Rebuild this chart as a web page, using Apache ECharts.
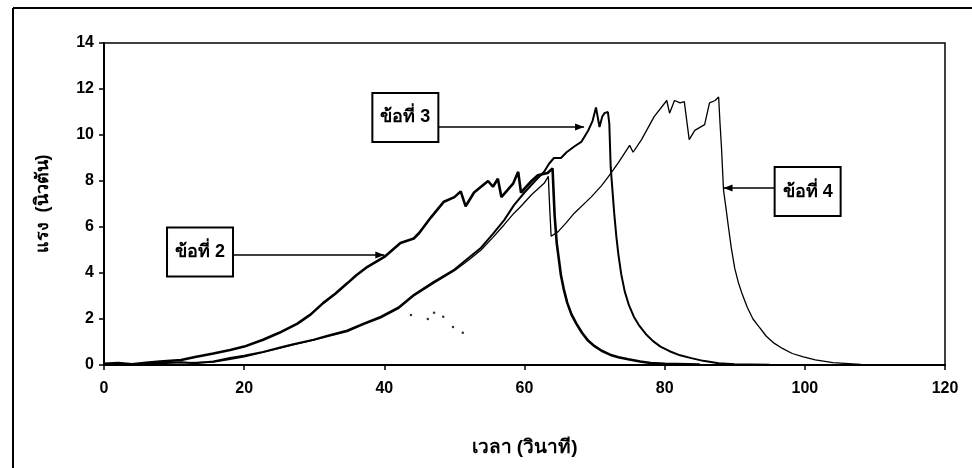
<!DOCTYPE html>
<html lang="th">
<head>
<meta charset="UTF-8">
<title>แรง - เวลา</title>
<style>
  html, body { margin: 0; padding: 0; background: #fff; }
  #main { width: 972px; height: 468px; }
</style>
</head>
<body>
<div id="main"></div>
<script src="https://cdn.jsdelivr.net/npm/echarts@6/dist/echarts.min.js"></script>
<script>
// ข้อมูลอ่านจากกราฟ [เวลา (s), แรง (N)]
var trial2 = [[0,0.05],[2,0.08],[4,0.03],[6,0.1],[8,0.15],[11,0.22],[13,0.35],[15.6,0.5],[18,0.65],[20,0.8],
  [22.7,1.1],[25,1.4],[27.6,1.8],[29.5,2.2],[31.3,2.7],[33,3.1],[34.7,3.55],[36,3.9],[37.6,4.27],[40,4.7],
  [42.3,5.3],[44.2,5.5],[45,5.75],[46.6,6.4],[48.5,7.1],[50,7.3],[50.9,7.55],[51.6,6.9],[52.8,7.5],[54.8,8.0],
  [55.5,7.75],[56.2,8.1],[56.7,7.3],[58.4,7.9],[59.1,8.4],[59.5,7.5],[61,8.0],[61.9,8.25],[63.3,8.35],[64,8.55],
  [64.3,6.5],[64.6,5.3],[64.9,4.6],[65.2,3.9],[65.6,3.3],[66.1,2.7],[66.7,2.2],[67.4,1.8],[68.2,1.4],[69.1,1.05],
  [70,0.82],[71,0.62],[72.2,0.45],[73.4,0.34],[74.8,0.25],[76.5,0.15],[78,0.09],[80,0.05],[85,0.02]];

var trial3 = [[5,0.0],[8,0.08],[11,0.12],[13,0.08],[15.6,0.15],[18,0.3],[20,0.4],[22.7,0.57],[25,0.75],[27,0.9],
  [29.9,1.1],[32,1.28],[34.7,1.5],[37,1.8],[39.5,2.1],[42,2.5],[44.2,3.05],[47,3.6],[50,4.15],[52,4.65],
  [53.8,5.1],[55.5,5.7],[57.1,6.3],[58.5,6.95],[60,7.5],[61.5,8.0],[62.8,8.4],[63.5,8.75],[64.2,9.0],[65.2,9.0],
  [66,9.25],[67.1,9.5],[68.1,9.7],[69.1,10.2],[69.7,10.6],[70.2,11.2],[70.7,10.35],[71.1,10.8],[71.4,10.95],[71.9,11.0],
  [72.1,10.5],[72.3,8.6],[72.6,7.4],[72.8,6.6],[73.1,5.6],[73.4,4.8],[73.8,3.95],[74.3,3.2],[74.9,2.6],[75.6,2.1],
  [76.4,1.7],[77.3,1.35],[78.3,1.05],[79.4,0.8],[80.7,0.6],[82.2,0.42],[83.8,0.3],[85.5,0.18],[87.7,0.08],[90,0.03],
  [95,0.01]];

var trial4 = [[3,0.02],[6,0.05],[9,0.1],[12,0.1],[15.6,0.13],[18,0.25],[20,0.35],[22.7,0.55],[25,0.72],[27,0.88],
  [29.9,1.08],[32,1.25],[34.7,1.45],[37,1.75],[39.5,2.05],[42,2.45],[44.2,3.0],[47,3.55],[50,4.1],[52,4.55],
  [53.8,5.0],[55.5,5.55],[57.1,6.1],[58.5,6.6],[59.5,6.9],[61,7.4],[62.8,7.9],[63.4,8.2],[63.6,6.8],[63.8,5.6],
  [64.8,5.8],[66,6.2],[67.1,6.6],[69.5,7.3],[71,7.8],[72,8.2],[73.4,8.8],[75,9.55],[75.5,9.25],[76.7,9.8],
  [78.5,10.8],[80.3,11.5],[80.7,10.95],[81.4,11.5],[82.2,11.4],[82.8,11.45],[83.5,9.8],[84.3,10.2],[85.7,10.45],[86.4,11.4],
  [87.2,11.5],[87.7,11.65],[87.9,10.5],[88.1,9.5],[88.4,7.6],[88.8,6.7],[89.1,6.0],[89.5,5.1],[90,4.2],[90.5,3.6],
  [91.1,3.05],[91.8,2.5],[92.6,2.0],[93.5,1.65],[94.5,1.25],[95.6,0.95],[96.8,0.72],[98.2,0.5],[99.8,0.35],[101.5,0.22],
  [104,0.1],[108,0.03],[115,0.01]];

// จุดกระจายเล็ก ๆ ใต้เส้นโค้ง
var strayDots = [[43.8,2.17],[46.2,2.0],[47.1,2.27],[48.4,2.1],[49.8,1.65],[51.2,1.4]];

var callouts = [
  { text: 'ข้อที่ 2', box: [13.7, 4.91], tip: [40, 4.78] },
  { text: 'ข้อที่ 3', box: [43.0, 10.76], tip: [68.5, 10.35] },
  { text: 'ข้อที่ 4', box: [100.4, 7.54], tip: [88.4, 7.7] }
];

var font = '"Liberation Sans", Arial, sans-serif';

function lineSeries(name, data, width) {
  return {
    name: name, type: 'line', data: data, showSymbol: false, smooth: false,
    lineStyle: { color: '#000', width: width }, z: 3
  };
}

var chart = echarts.init(document.getElementById('main'));
chart.setOption({
  backgroundColor: '#fff',
  animation: false,
  grid: { left: 104, right: 27, top: 43, bottom: 103, show: true, borderColor: '#000', borderWidth: 1.5 },
  xAxis: {
    type: 'value', min: 0, max: 120, interval: 20,
    name: 'เวลา (วินาที)', nameLocation: 'middle', nameGap: 73,
    nameTextStyle: { color: '#000', fontWeight: 'bold', fontSize: 19, fontFamily: font },
    axisLine: { lineStyle: { color: '#000', width: 2 } },
    axisTick: { inside: false, length: 5, lineStyle: { color: '#000', width: 1.5 } },
    axisLabel: { color: '#000', fontWeight: 'bold', fontSize: 16, margin: 16, fontFamily: font },
    splitLine: { show: false }
  },
  yAxis: {
    type: 'value', min: 0, max: 14, interval: 2,
    name: 'แรง  (นิวตัน)', nameLocation: 'middle', nameGap: 52, nameRotate: 90,
    nameTextStyle: { color: '#000', fontWeight: 'bold', fontSize: 18, fontFamily: font },
    axisLine: { show: true, lineStyle: { color: '#000', width: 2 } },
    axisTick: { show: true, length: 5, lineStyle: { color: '#000', width: 1.5 } },
    axisLabel: { color: '#000', fontWeight: 'bold', fontSize: 16, margin: 10, fontFamily: font },
    splitLine: { show: false }
  },
  series: [
    lineSeries('ข้อที่ 4', trial4, 1.3),
    lineSeries('ข้อที่ 3', trial3, 2),
    lineSeries('ข้อที่ 2', trial2, 2.6),
    {
      type: 'scatter', data: strayDots, symbolSize: 2.5,
      itemStyle: { color: '#000' }, z: 2
    }
  ]
});

// กรอบภายนอก กล่องข้อความ และลูกศร
var g = [
  { type: 'line', shape: { x1: 13, y1: 8, x2: 13, y2: 468 }, style: { stroke: '#000', lineWidth: 2 } },
  { type: 'line', shape: { x1: 13, y1: 8, x2: 972, y2: 8 }, style: { stroke: '#000', lineWidth: 2 } }
];
var bw = 66, bh = 49;
callouts.forEach(function (c) {
  var b = chart.convertToPixel({ gridIndex: 0 }, c.box);
  var t = chart.convertToPixel({ gridIndex: 0 }, c.tip);
  var left = b[0] - bw / 2, top = b[1] - bh / 2;
  var fromRight = t[0] > b[0];
  var x1 = fromRight ? left + bw : left;
  var dir = fromRight ? -1 : 1;
  g.push({
    type: 'rect', shape: { x: left, y: top, width: bw, height: bh },
    style: { fill: '#fff', stroke: '#000', lineWidth: 2 }, z: 10
  });
  g.push({
    type: 'text', x: b[0], y: b[1], z: 11,
    style: { text: c.text, fill: '#000', font: 'bold 18px ' + font, align: 'center', verticalAlign: 'middle' }
  });
  g.push({
    type: 'line', shape: { x1: x1, y1: t[1], x2: t[0], y2: t[1] },
    style: { stroke: '#000', lineWidth: 1.5 }, z: 10
  });
  g.push({
    type: 'polygon', z: 10,
    shape: { points: [[t[0], t[1]], [t[0] + dir * 9, t[1] - 3.5], [t[0] + dir * 9, t[1] + 3.5]] },
    style: { fill: '#000' }
  });
});
chart.setOption({ graphic: g });
</script>
</body>
</html>
